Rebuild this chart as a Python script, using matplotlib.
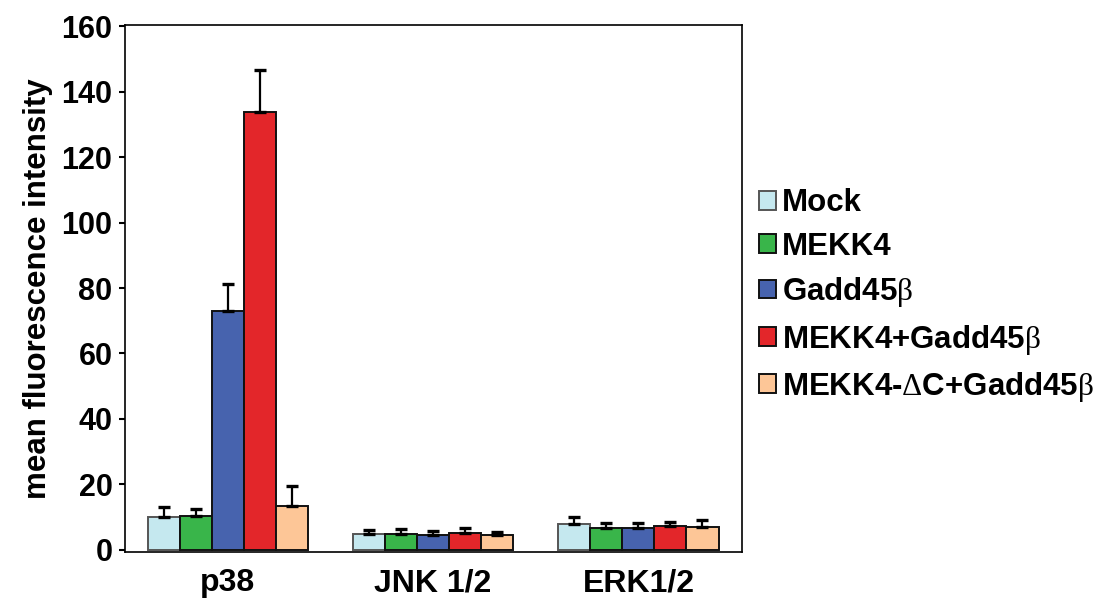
import matplotlib
matplotlib.use("Agg")
import matplotlib.pyplot as plt
import numpy as np

plt.rcParams['font.family'] = ['Liberation Sans', 'DejaVu Sans']
plt.rcParams['mathtext.fontset'] = 'custom'
plt.rcParams['mathtext.rm'] = 'Liberation Serif'

groups = ['p38', 'JNK 1/2', 'ERK1/2']
labels = ['Mock', 'MEKK4', r'Gadd45$\mathrm{β}$', r'MEKK4+Gadd45$\mathrm{β}$',
          r'MEKK4-$\mathrm{Δ}$C+Gadd45$\mathrm{β}$']
colors = ['#c5e8ef', '#39b54a', '#4763ae', '#e3262a', '#fdc697']

# mean values per condition (rows) for p38, JNK, ERK
means = [
    [10.0, 4.8, 7.9],
    [10.3, 4.9, 6.8],
    [72.9, 4.6, 6.8],
    [133.8, 5.1, 7.2],
    [13.4, 4.6, 7.0],
]
# top of the error bar
tops = [
    [13.0, 5.9, 10.0],
    [12.5, 6.2, 8.3],
    [81.1, 5.6, 8.3],
    [146.6, 6.6, 8.4],
    [19.6, 5.4, 9.0],
]

fig = plt.figure(figsize=(11.06, 6.03), dpi=100)
ax = fig.add_axes([0.113, 0.085, 0.558, 0.874])

x = np.arange(len(groups))
w = 0.156
for i in range(len(labels)):
    pos = x + (i - 2) * w
    m = np.array(means[i])
    t = np.array(tops[i])
    ec = '#555555' if i == 0 else '#111111'
    ax.bar(pos, m, w, color=colors[i], edgecolor=ec, linewidth=1.4, label=labels[i])
    ax.errorbar(pos, m, yerr=[np.zeros_like(m), t - m], fmt='none',
                ecolor='black', elinewidth=1.6, capsize=4.5, capthick=2.4)

ax.set_xlim(-0.5, 2.505)
ax.set_ylim(-0.6, 160.5)
ax.set_yticks(range(0, 161, 20))
ax.set_xticks(x)
ax.set_xticklabels(groups, fontsize=23, fontweight='bold')
ax.tick_params(axis='x', length=0, pad=12)
ax.tick_params(axis='y', direction='out', length=4, width=1.5, labelsize=22, pad=5)
for lab in ax.get_yticklabels():
    lab.set_fontweight('bold')
for s in ax.spines.values():
    s.set_linewidth(1.2)
ax.set_ylabel('mean fluorescence intensity', fontsize=22.5, fontweight='bold', labelpad=6)

leg = fig.legend(loc='center left', bbox_to_anchor=(0.686, 0.509), frameon=False,
                 prop={'size': 22.5, 'weight': 'bold'}, handlelength=0.55, handleheight=0.55,
                 handletextpad=0.2, labelspacing=0.43, borderaxespad=0, borderpad=0)

fig.savefig('out.png', dpi=100)
